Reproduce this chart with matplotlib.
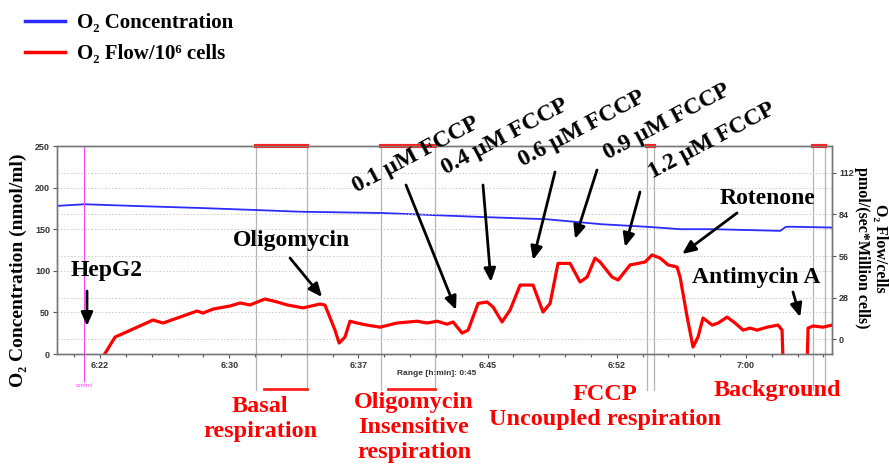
import numpy as np
import matplotlib
matplotlib.use('Agg')
import matplotlib.pyplot as plt

# time in minutes after 6:20 (range 0:45)
conc_time = [0, 1.6, 4.4, 8.3, 11.6, 14.1, 18.8, 24.6, 28.4, 31.6, 34.4, 36.2, 38.1, 40.1, 42.0, 42.3, 42.5, 45.0]
conc_vals = [178, 180, 178, 175.5, 173, 171, 169.5, 164.7, 162, 156, 152.7, 150, 150, 149, 148, 152.6, 153, 152]

flow_time = [2.67, 3.37, 4.41, 5.57, 6.16, 7.14, 8.13, 8.48, 9.06, 10.05, 10.63, 11.21, 12.08, 12.78,
             13.36, 14.29, 15.27, 15.56, 16.14, 16.38, 16.72, 17.01, 17.42, 18.0, 18.76, 19.74, 20.91,
             21.49, 22.07, 22.65, 23.0, 23.52, 23.87, 24.45, 24.97, 25.32, 25.84, 26.31, 26.89, 27.64,
             28.22, 28.63, 29.09, 29.79, 30.37, 30.78, 31.24, 31.53, 32.23, 32.58, 33.28, 33.74, 34.15,
             34.55, 35.02, 35.48, 36.0, 36.18, 36.59, 36.93, 37.22, 37.51, 38.04, 38.39, 38.91, 39.37,
             39.84, 40.24, 40.65, 41.23, 41.87, 42.1, 42.22, 43.5, 43.61, 43.9, 44.48, 45.0]
flow_vals = [-12, 1.3, 6.7, 12.8, 10.8, 14.8, 18.9, 17.5, 20.2, 22.3, 24.3, 23.0, 27.0, 25.0,
             23.0, 21.0, 23.6, 22.9, 6.0, -2.7, 1.3, 12.0, 10.8, 9.4, 8.0, 10.8, 12.0,
             10.8, 12.0, 10.0, 11.5, 4.0, 6.0, 24.0, 25.0, 21.6, 11.5, 19.6, 36.4, 36.4,
             18.2, 24.0, 51.0, 51.0, 38.5, 41.8, 54.6, 52.0, 41.8, 39.8, 50.0, 51.0, 52.0,
             56.7, 54.6, 50.0, 48.6, 41.8, 14.8, -5.4, 1.3, 14.2, 9.4, 10.8, 14.8, 10.8,
             6.0, 7.4, 6.0, 8.0, 9.4, 6.0, -40, -40, 7.4, 8.8, 8.0, 9.4]

tick_pos = [2.5, 10, 17.5, 25, 32.5, 40]
tick_labels = ['6:22', '6:30', '6:37', '6:45', '6:52', '7:00']
conc_ticks = [0, 50, 100, 150, 200, 250]
flow_ticks = [0, 28, 56, 84, 112]

event_marks = [11.56, 14.52, 18.82, 21.95, 34.26, 34.67, 43.9, 44.6]
mark_periods = [(11.56, 14.52), (18.82, 21.95), (34.26, 34.67), (43.9, 44.6)]
bottom_periods = [(12.02, 14.52), (19.2, 21.95)]
control_time = 1.57

# injections: label, arrow tip (time, flow)
injections = [
    ('HepG2', 1.74, 8.8),
    ('Oligomycin', 15.39, 28.3),
    ('0.1 µM FCCP', 23.17, 19.6),
    ('0.4 µM FCCP', 25.2, 38.5),
    ('0.6 µM FCCP', 27.64, 53.3),
    ('0.9 µM FCCP', 30.08, 67.5),
    ('1.2 µM FCCP', 32.98, 62.1),
    ('Rotenone', 36.3, 57.3),
    ('Antimycin A', 43.15, 14.8),
]
# text centre (px), rotation, arrow tail (px)
inj_layout = [
    ((107, 270), 0, (87, 291)),
    ((292, 240), 0, (290, 258)),
    ((416, 155), 28, (406, 185)),
    ((505, 137), 28, (483, 185)),
    ((582, 129), 28, (555, 172)),
    ((667, 122), 28, (597, 170)),
    ((712, 141), 28, (640, 192)),
    ((767, 198), 0, (737, 213)),
    ((756, 277), 0, (793, 292)),
]

W, H = 889, 465


def px(x, y):
    return (x / W, 1 - y / H)


serif = ['Liberation Serif', 'DejaVu Serif']
tick_font = dict(family='Liberation Sans', weight='bold', size=6.5)

fig = plt.figure(figsize=(W / 100, H / 100), dpi=100)
ax = fig.add_axes([57 / W, 1 - 354 / H, (832 - 57) / W, (354 - 146) / H])
ax2 = ax.twinx()

l1, = ax.plot(conc_time, conc_vals, color='#2b2bff', lw=1.3)
l2, = ax2.plot(flow_time, flow_vals, color='#ff0000', lw=2.3)

ax.set_xlim(0, 45)
ax.set_ylim(0, 250)
ax2.set_ylim(-10.1, 130.2)

ax.set_xticks(tick_pos)
ax.set_xticklabels(tick_labels)
ax.set_xticks([1.0 + 1.5 * i for i in range(30)], minor=True)
ax.set_yticks(conc_ticks)
ax2.set_yticks(flow_ticks)

for a in (ax, ax2):
    for s in a.spines.values():
        s.set_color('#777777')
        s.set_linewidth(1.0)
    a.tick_params(which='both', length=3, width=0.8, color='#555555', labelcolor='#333333', pad=2)
    for lab in a.get_xticklabels() + a.get_yticklabels():
        lab.set_fontproperties(tick_font)
ax.tick_params(which='minor', length=2.5)
ax.yaxis.grid(True, ls=(0, (1.5, 2)), color='#c8c8c8', lw=0.7)
ax2.yaxis.grid(True, ls=(0, (1.5, 2)), color='#c8c8c8', lw=0.7)
ax.set_axisbelow(True)

# event marks
xt = ax.get_xaxis_transform()
for t in event_marks:
    ax.plot([t, t], [-0.173, 1.0], transform=xt, color='#b5b5b5', lw=0.9, clip_on=False, zorder=1)
for s, e in mark_periods:
    ax.plot([s, e], [1.0, 1.0], transform=xt, color='#ff2020', lw=3, clip_on=False, zorder=5)
for s, e in bottom_periods:
    ax.plot([s, e], [-0.168, -0.168], transform=xt, color='#ff2020', lw=2, clip_on=False)
ax.plot([control_time, control_time], [-0.13, 1.0], transform=xt, color='#ff40ff', lw=0.8, clip_on=False)
ax.text(control_time, -0.14, 'control', transform=xt, color='#ff40ff', fontsize=3.5,
        ha='center', va='top')

ax.text(0.49, -0.093, 'Range [h:min]: 0:45', transform=ax.transAxes, ha='center', va='center',
        family='Liberation Sans', weight='bold', fontsize=6, color='#333333')

# axis labels
fig.text(*px(18, 270), 'O₂ Concentration (nmol/ml)', rotation=90, ha='center', va='center',
         family=serif, weight='bold', fontsize=14)
fig.text(*px(871, 248), 'O₂ Flow/cells\npmol/(sec*Million cells)', rotation=-90, ha='center',
         va='center', multialignment='center', family=serif, weight='bold', fontsize=11.5,
         linespacing=1.1)

# legend
leg = fig.legend([l1, l2], ['O₂ Concentration', 'O₂ Flow/10⁶ cells'], loc='upper left',
                 bbox_to_anchor=px(25, 13), frameon=False, borderpad=0, borderaxespad=0,
                 handlelength=1.9, handletextpad=0.6, labelspacing=0.55,
                 prop=dict(family=serif, weight='bold', size=15))
for h in leg.legend_handles:
    h.set_linewidth(2.5)

# injection annotations
for (label, t, f), (tpos, rot, tail) in zip(injections, inj_layout):
    fig.text(*px(*tpos), label, rotation=rot, ha='center', va='center', family=serif,
             weight='bold', fontsize=17, rotation_mode='anchor')
    ax2.annotate('', xy=(t, f), xycoords='data', xytext=px(*tail), textcoords='figure fraction',
                 arrowprops=dict(arrowstyle='-|>,head_width=0.35,head_length=0.8', color='black',
                                 lw=2, shrinkA=0, shrinkB=0))

# state labels under the axis
red_font = dict(family=serif, weight='bold', fontsize=17.5, color='#ff0000', ha='center',
                va='center', linespacing=1.25)
fig.text(*px(260, 419), 'Basal\nrespiration', **red_font)
fig.text(*px(414, 427), 'Oligomycin\nInsensitive\nrespiration', **red_font)
fig.text(*px(605, 407), 'FCCP\nUncoupled respiration', **red_font)
fig.text(*px(777, 390), 'Background', **red_font)

fig.savefig('out.png', dpi=100)
